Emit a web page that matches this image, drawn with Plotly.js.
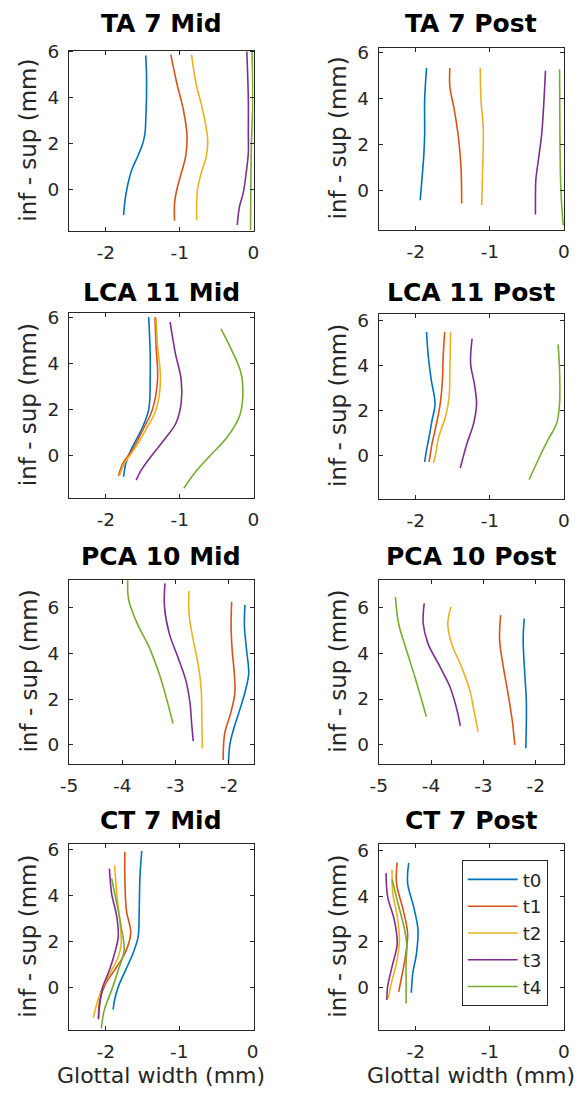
<!DOCTYPE html>
<html>
<head>
<meta charset="utf-8">
<script src="https://cdn.plot.ly/plotly-3.0.1.min.js"></script>
<style>html,body{margin:0;padding:0;background:#fff;}#chart{width:580px;height:1094px;}</style>
</head>
<body>
<div id="chart"></div>
<script>
// ---------------- DATA ----------------
const seriesNames = ["t0", "t1", "t2", "t3", "t4"];
const panelTitles = ["TA 7 Mid", "TA 7 Post", "LCA 11 Mid", "LCA 11 Post",
                     "PCA 10 Mid", "PCA 10 Post", "CT 7 Mid", "CT 7 Post"];
const yLabel = "inf - sup (mm)";
const xLabel = "Glottal width (mm)";

const xTicksNarrow = [-2, -1, 0];
const xTickTextNarrow = ["-2", "-1", "0"];
const xTicksWide = [-5, -4, -3, -2];
const xTickTextWide = ["-5", "-4", "-3", "-2"];
const yTicks = [0, 2, 4, 6];
const yTickText = ["0", "2", "4", "6"];

// TA 7 Mid
const ta7MidX = [
  [-1.46, -1.45, -1.45, -1.46, -1.47, -1.50, -1.57, -1.65, -1.71, -1.74, -1.76],
  [-1.12, -1.04, -0.95, -0.90, -0.92, -0.98, -1.04, -1.07, -1.07],
  [-0.84, -0.78, -0.69, -0.62, -0.64, -0.71, -0.76, -0.77, -0.77],
  [-0.09, -0.07, -0.07, -0.07, -0.10, -0.14, -0.19, -0.22],
  [-0.02, -0.01, -0.03, -0.04]
];
const ta7MidY = [
  [5.83, 5.0, 4.0, 3.0, 2.46, 2.03, 1.45, 0.87, 0.14, -0.43, -1.09],
  [5.87, 4.64, 3.48, 2.32, 1.45, 0.72, 0.0, -0.58, -1.33],
  [5.87, 4.64, 3.48, 2.17, 1.45, 0.72, 0.0, -0.58, -1.30],
  [6.01, 3.9, 2.46, 1.6, 0.72, -0.14, -0.72, -1.52],
  [6.09, 3.9, 1.74, -1.74]
];
// TA 7 Post
const ta7PostX = [
  [-1.855, -1.88, -1.88, -1.89, -1.91, -1.94],
  [-1.54, -1.54, -1.48, -1.42, -1.39, -1.38],
  [-1.13, -1.12, -1.09, -1.09, -1.10, -1.11],
  [-0.25, -0.27, -0.30, -0.34, -0.38, -0.385, -0.385],
  [-0.06, -0.055, -0.045, -0.03, -0.01]
];
const ta7PostY = [
  [5.31, 3.92, 2.47, 1.6, 0.73, -0.44],
  [5.31, 4.5, 3.49, 2.18, 1.02, -0.58],
  [5.31, 3.92, 2.76, 1.74, 0.73, -0.65],
  [5.19, 3.92, 2.47, 1.45, 0.44, -0.29, -1.06],
  [5.26, 2.47, 0.29, -0.73, -1.53]
];
// LCA 11 Mid
const lca11MidX = [
  [-1.42, -1.40, -1.40, -1.42, -1.52, -1.66, -1.73, -1.76],
  [-1.335, -1.32, -1.30, -1.37, -1.50, -1.64, -1.77, -1.83],
  [-1.32, -1.30, -1.26, -1.32, -1.46, -1.62, -1.75, -1.81],
  [-1.13, -1.06, -0.98, -0.98, -1.05, -1.21, -1.39, -1.52, -1.59],
  [-0.44, -0.30, -0.17, -0.145, -0.19, -0.35, -0.60, -0.80, -0.945]
];
const lca11MidY = [
  [6.0, 4.45, 3.28, 1.98, 1.1, 0.23, -0.35, -0.93],
  [6.0, 4.74, 3.28, 1.98, 1.1, 0.23, -0.35, -0.9],
  [5.97, 4.74, 3.28, 1.98, 1.1, 0.23, -0.35, -0.86],
  [5.78, 4.45, 3.28, 2.27, 1.4, 0.67, -0.06, -0.64, -1.08],
  [5.49, 4.59, 3.58, 2.56, 1.69, 0.81, -0.06, -0.78, -1.44]
];
// LCA 11 Post
const lca11PostX = [
  [-1.855, -1.83, -1.79, -1.74, -1.78, -1.82, -1.855, -1.88],
  [-1.61, -1.63, -1.64, -1.67, -1.72, -1.78, -1.82],
  [-1.53, -1.54, -1.55, -1.60, -1.69, -1.73, -1.76],
  [-1.24, -1.26, -1.21, -1.18, -1.22, -1.31, -1.40],
  [-0.08, -0.06, -0.06, -0.10, -0.22, -0.33, -0.47]
];
const lca11PostY = [
  [5.48, 4.37, 3.34, 2.30, 1.57, 0.83, 0.24, -0.28],
  [5.48, 4.37, 3.34, 2.30, 1.42, 0.53, -0.28],
  [5.48, 3.78, 2.6, 1.71, 0.83, 0.09, -0.32],
  [5.18, 4.08, 3.19, 2.30, 1.42, 0.53, -0.55],
  [4.93, 3.78, 2.30, 1.42, 0.68, -0.06, -1.06]
];
// PCA 10 Mid
const pca10MidX = [
  [-1.70, -1.71, -1.67, -1.63, -1.69, -1.78, -1.90, -1.98, -2.01],
  [-1.95, -1.96, -1.94, -1.90, -1.89, -1.97, -2.08, -2.11],
  [-2.75, -2.75, -2.67, -2.57, -2.52, -2.51, -2.50],
  [-3.20, -3.21, -3.12, -2.96, -2.81, -2.73, -2.70, -2.67],
  [-3.90, -3.88, -3.72, -3.50, -3.31, -3.18, -3.05]
];
const pca10MidY = [
  [6.12, 5.17, 4.15, 3.12, 2.39, 1.66, 0.79, 0.06, -0.82],
  [6.26, 5.17, 4.15, 3.12, 2.25, 1.37, 0.5, -0.67],
  [6.74, 5.75, 4.58, 3.42, 2.39, 1.23, -0.16],
  [7.07, 6.04, 4.88, 3.85, 2.83, 1.81, 0.93, 0.16],
  [7.21, 6.34, 5.31, 4.29, 3.12, 2.1, 0.93]
];
// PCA 10 Post
const pca10PostX = [
  [-2.22, -2.24, -2.21, -2.18, -2.18, -2.19],
  [-2.67, -2.69, -2.62, -2.53, -2.45, -2.40],
  [-3.62, -3.68, -3.61, -3.42, -3.26, -3.17, -3.10],
  [-4.13, -4.15, -4.06, -3.83, -3.64, -3.52, -3.44],
  [-4.68, -4.62, -4.47, -4.31, -4.18, -4.09]
];
const pca10PostY = [
  [5.53, 4.58, 3.12, 1.96, 0.79, -0.16],
  [5.68, 4.58, 3.42, 2.25, 1.08, -0.01],
  [6.04, 5.31, 4.44, 3.42, 2.39, 1.37, 0.57],
  [6.19, 5.31, 4.44, 3.42, 2.54, 1.66, 0.82],
  [6.48, 5.31, 4.15, 2.98, 1.96, 1.23]
];
// CT 7 Mid
const ct7MidX = [
  [-1.51, -1.535, -1.545, -1.56, -1.63, -1.73, -1.83, -1.88, -1.90],
  [-1.74, -1.74, -1.72, -1.66, -1.74, -1.88, -2.0, -2.08, -2.10],
  [-1.88, -1.85, -1.81, -1.79, -1.83, -1.92, -2.04, -2.12, -2.17],
  [-1.95, -1.92, -1.85, -1.83, -1.88, -1.95, -2.04, -2.08, -2.10],
  [-1.92, -1.85, -1.79, -1.75, -1.83, -1.92, -2.02, -2.06]
];
const ct7MidY = [
  [5.94, 4.81, 3.37, 2.21, 1.49, 0.77, 0.04, -0.53, -0.94],
  [5.9, 4.81, 3.37, 2.36, 1.49, 0.77, 0.19, -0.53, -1.33],
  [5.32, 4.09, 2.93, 1.92, 1.34, 0.77, 0.04, -0.68, -1.30],
  [5.17, 4.09, 3.08, 2.21, 1.49, 0.77, 0.04, -0.68, -1.37],
  [4.74, 3.66, 2.64, 1.63, 0.77, -0.1, -0.97, -1.76]
];
// CT 7 Post
const ct7PostX = [
  [-2.095, -2.11, -2.03, -1.97, -1.99, -2.04, -2.06],
  [-2.25, -2.26, -2.17, -2.11, -2.14, -2.19, -2.23],
  [-2.32, -2.31, -2.25, -2.22, -2.26, -2.33, -2.37],
  [-2.40, -2.38, -2.29, -2.25, -2.32, -2.38, -2.39],
  [-2.32, -2.24, -2.15, -2.12, -2.13, -2.13, -2.13]
];
const ct7PostY = [
  [5.45, 4.57, 3.55, 2.53, 1.5, 0.63, -0.22],
  [5.47, 4.57, 3.4, 2.38, 1.36, 0.48, -0.18],
  [5.15, 4.13, 3.11, 2.09, 1.07, 0.19, -0.47],
  [5.01, 3.99, 2.96, 1.94, 0.92, 0.04, -0.54],
  [4.74, 3.69, 2.53, 1.8, 1.21, 0.34, -0.69]
];

// ---------------- STYLE / LAYOUT ----------------
const W = 580, H = 1094;
const colors = ["#0072BD", "#D95319", "#EDB120", "#7E2F8E", "#77AC30"];
const axisColor = "#262626";
const FONT = "DejaVu Sans, Arial, sans-serif";

const panelXs = [ta7MidX, ta7PostX, lca11MidX, lca11PostX, pca10MidX, pca10PostX, ct7MidX, ct7PostX];
const panelYs = [ta7MidY, ta7PostY, lca11MidY, lca11PostY, pca10MidY, pca10PostY, ct7MidY, ct7PostY];

// pixel boxes: [left, right], [top, bottom]
const colPx = [[69, 253.5], [378.7, 564]];
const rowPx = [[[50.5, 231], [47.5, 229.5]],
               [[312.5, 498], [313.5, 498.5]],
               [[579.5, 763.5], [579.5, 764]],
               [[843.5, 1030], [843.5, 1030]]];
const titleCy = [23.5, 292.5, 556, 820];
const xRanges = [[-2.5, 0], [-2.5, 0], [-2.5, 0], [-2.5, 0], [-5, -1.54], [-5, -1.46], [-2.5, 0.01], [-2.5, 0]];
const yRanges = [[-1.78, 6.05], [-1.71, 6.2], [-1.86, 6.2], [-1.9, 6.3], [-0.82, 7.24], [-0.85, 7.24], [-1.83, 6.26], [-1.85, 6.3]];

const traces = [];
const layout = {
  width: W, height: H,
  margin: {l: 0, r: 0, t: 0, b: 0, pad: 0},
  paper_bgcolor: "#ffffff",
  plot_bgcolor: "#ffffff",
  font: {family: FONT, color: axisColor, size: 19},
  showlegend: true,
  legend: {
    x: 461.7 / W, y: 1 - 860 / H, xanchor: "left", yanchor: "top",
    bgcolor: "#ffffff", bordercolor: axisColor, borderwidth: 1,
    font: {family: FONT, size: 18.3, color: axisColor},
    itemwidth: 50, tracegroupgap: 0
  },
  annotations: []
};

for (let p = 0; p < 8; p++) {
  const r = Math.floor(p / 2), c = p % 2;
  const [l, rr] = colPx[c];
  const [t, b] = rowPx[r][c];
  const idx = p === 0 ? "" : String(p + 1);
  const wide = (p === 4 || p === 5);
  layout["xaxis" + idx] = {
    domain: [l / W, rr / W], anchor: "y" + idx, range: xRanges[p],
    tickmode: "array",
    tickvals: wide ? xTicksWide : xTicksNarrow,
    ticktext: wide ? xTickTextWide : xTickTextNarrow,
    showgrid: false, zeroline: false, showline: true, mirror: "allticks",
    linecolor: axisColor, linewidth: 1, ticks: "inside", ticklen: 4, tickcolor: axisColor,
    tickfont: {family: FONT, size: 18.5, color: axisColor}, ticklabelstandoff: 5
  };
  layout["yaxis" + idx] = {
    domain: [1 - b / H, 1 - t / H], anchor: "x" + idx, range: yRanges[p],
    tickmode: "array", tickvals: yTicks, ticktext: yTickText,
    showgrid: false, zeroline: false, showline: true, mirror: "allticks",
    linecolor: axisColor, linewidth: 1, ticks: "inside", ticklen: 4, tickcolor: axisColor,
    tickfont: {family: FONT, size: 18.5, color: axisColor}, ticklabelstandoff: 5
  };
  for (let s = 0; s < 5; s++) {
    traces.push({
      type: "scatter", mode: "lines",
      x: panelXs[p][s], y: panelYs[p][s],
      xaxis: "x" + idx, yaxis: "y" + idx,
      name: seriesNames[s],
      line: {color: colors[s], width: 1.6, shape: "spline", smoothing: 1},
      showlegend: p === 7, hoverinfo: "skip"
    });
  }
  // panel title
  layout.annotations.push({
    xref: "paper", yref: "paper", x: ((l + rr) / 2) / W, y: 1 - titleCy[r] / H,
    xanchor: "center", yanchor: "middle", showarrow: false,
    text: "<b>" + panelTitles[p] + "</b>",
    font: {family: FONT, size: 25, color: "#000000"}
  });
  // y label
  layout.annotations.push({
    xref: "paper", yref: "paper", x: (c === 0 ? 28 : 338) / W, y: 1 - ((t + b) / 2) / H,
    xanchor: "center", yanchor: "middle", showarrow: false, textangle: -90,
    text: yLabel, font: {family: FONT, size: 23, color: axisColor}
  });
  if (r === 3) {
    layout.annotations.push({
      xref: "paper", yref: "paper", x: ((l + rr) / 2) / W, y: 1 - 1075 / H,
      xanchor: "center", yanchor: "middle", showarrow: false,
      text: xLabel, font: {family: FONT, size: 22, color: axisColor}
    });
  }
}

Plotly.newPlot("chart", traces, layout, {staticPlot: true, displayModeBar: false});
</script>
</body>
</html>
